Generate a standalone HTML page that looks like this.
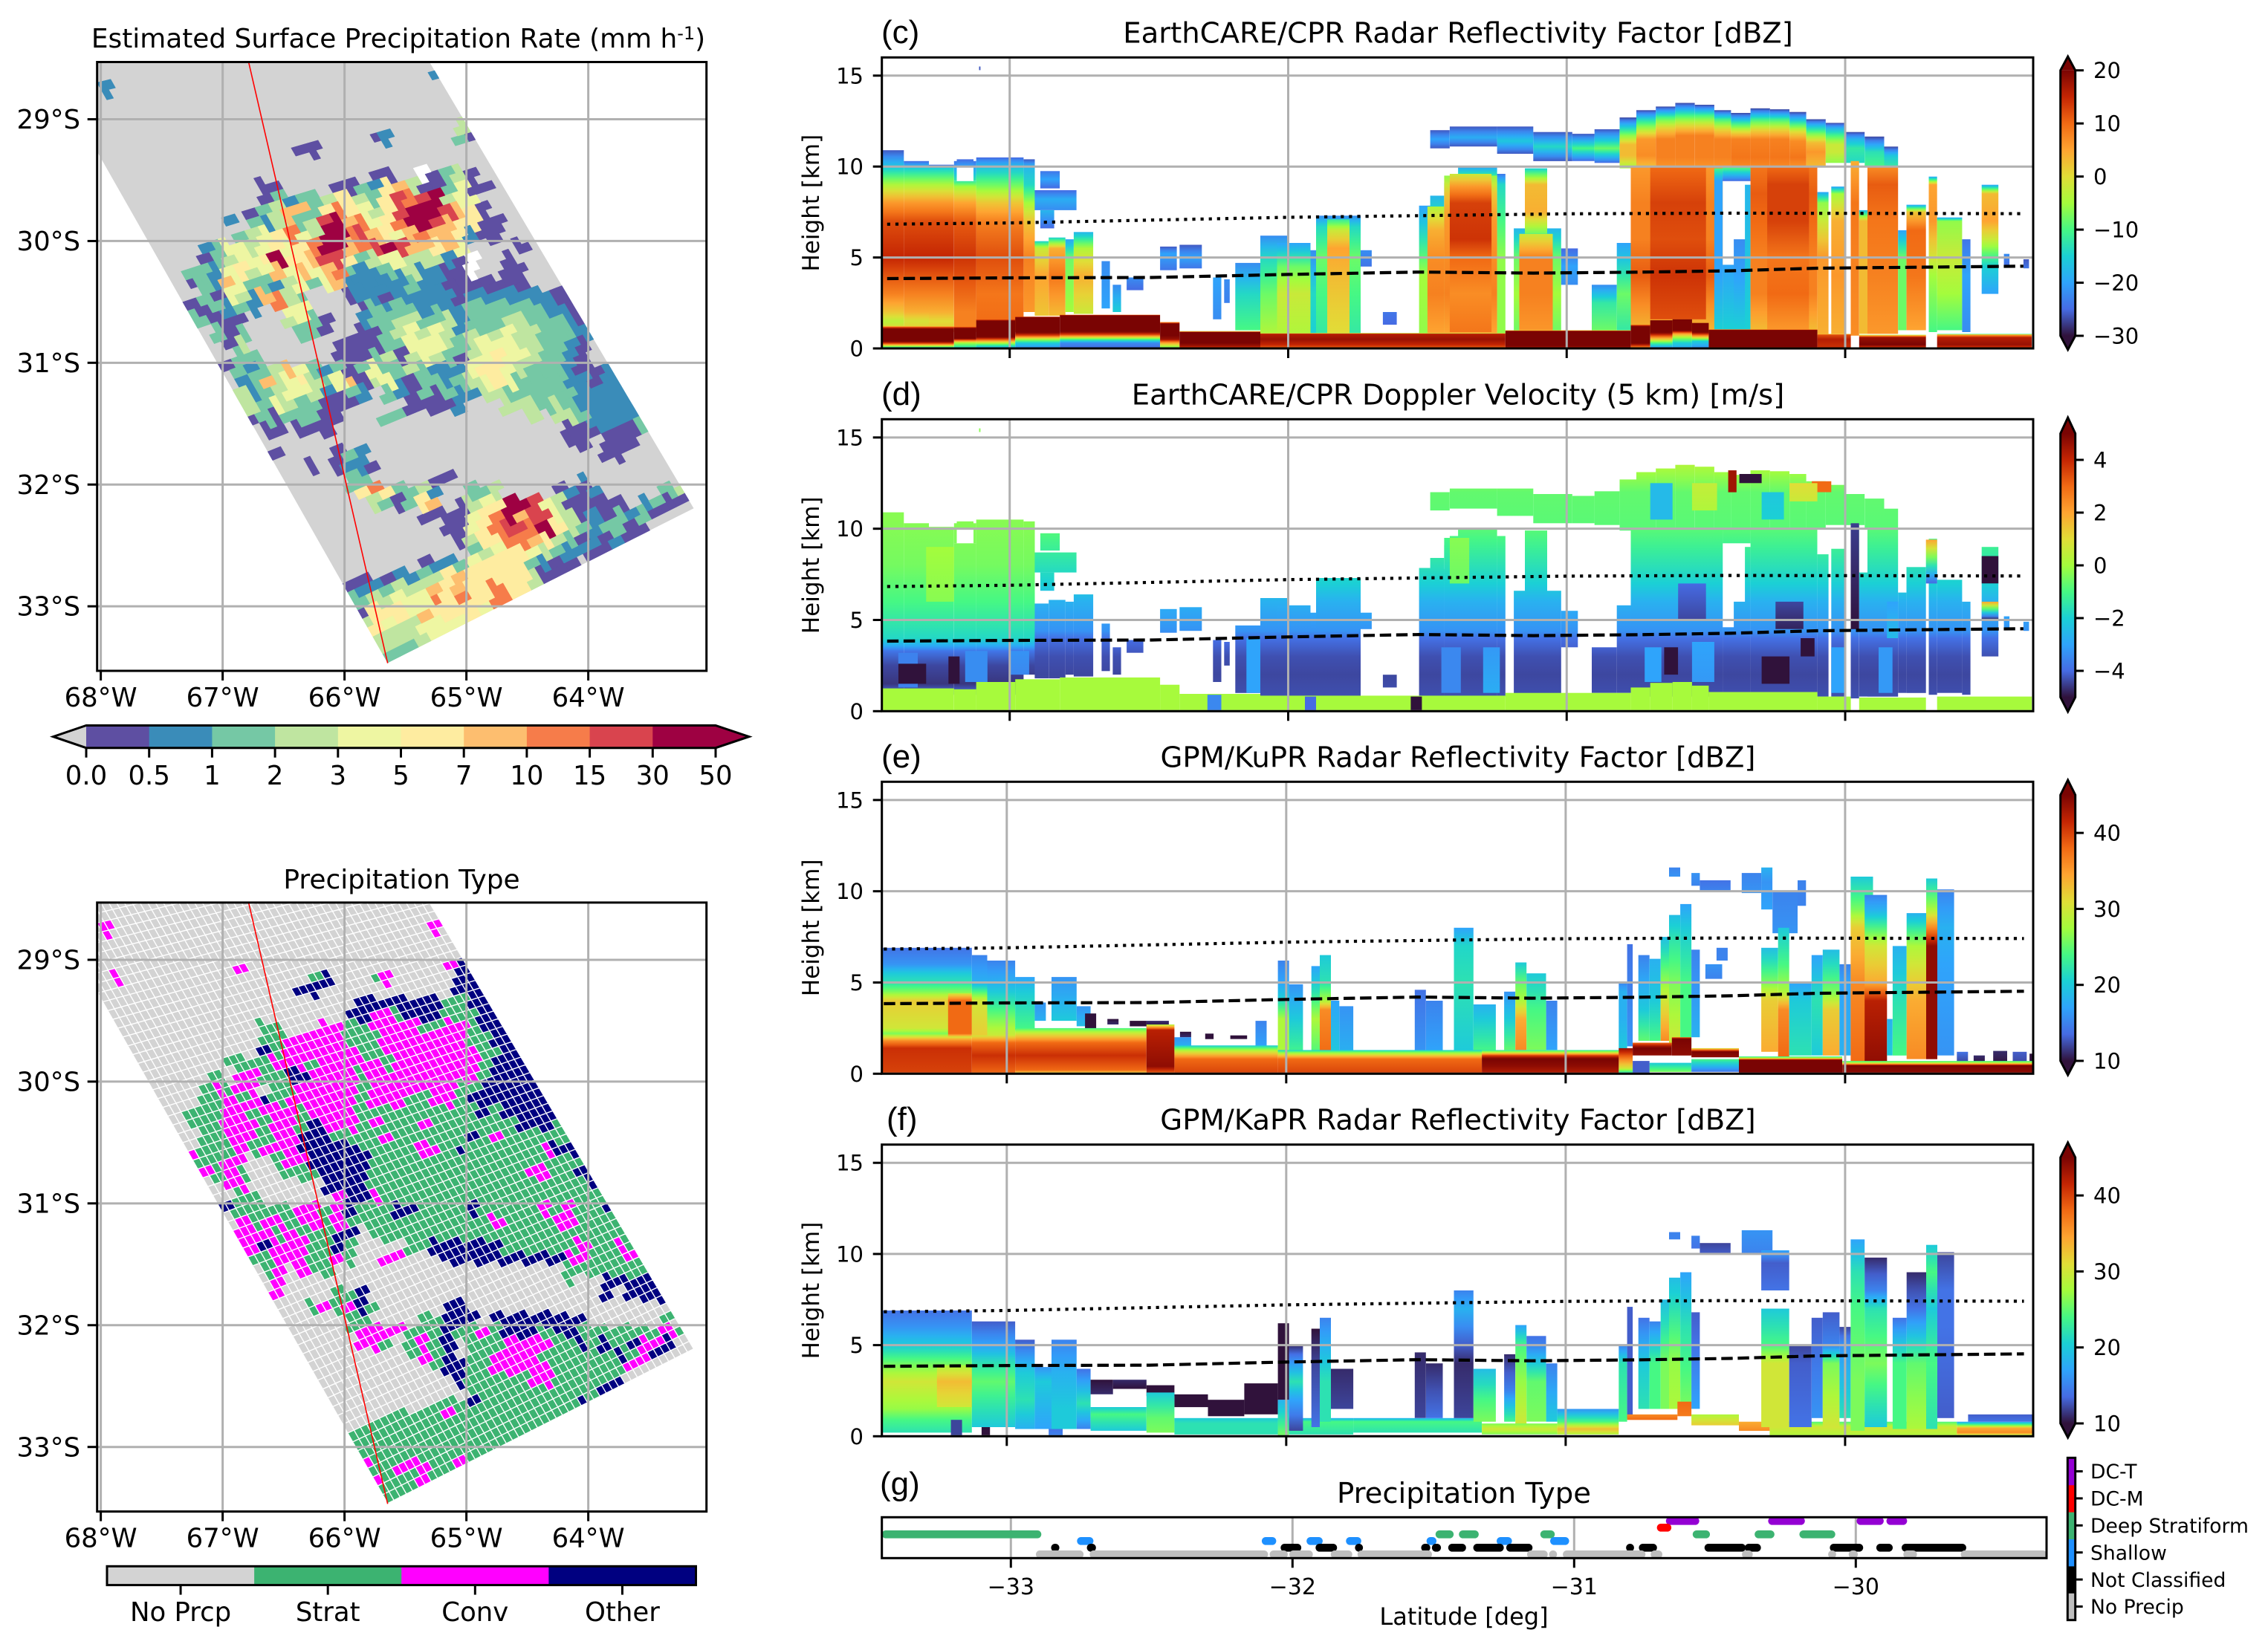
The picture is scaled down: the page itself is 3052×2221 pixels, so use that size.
<!DOCTYPE html>
<html lang="en">
<head>
<meta charset="utf-8">
<title>EarthCARE and GPM precipitation case study</title>
<style>
html,body{margin:0;padding:0;background:#fff;}
svg{display:block;}
text{font-family:"DejaVu Sans","Liberation Sans",sans-serif;fill:#000;}
.panel-label{font-family:"Liberation Sans",sans-serif;font-size:44px;}
.title{font-size:38.6px;text-anchor:middle;}
.map-title{font-size:35.9px;text-anchor:middle;}
</style>
</head>
<body>
<svg id="fig" xmlns="http://www.w3.org/2000/svg" width="3052" height="2221" viewBox="0 0 3052 2221">
<defs id="defs"></defs>
<rect x="0" y="0" width="3052" height="2221" fill="#fff"/>
<text class="map-title" x="536" y="64">Estimated Surface Precipitation Rate (mm h<tspan font-size="24" dy="-11">-1</tspan><tspan dy="11">)</tspan></text>
<text class="map-title" x="540.5" y="1196">Precipitation Type</text>
<text class="title" x="1962" y="57.3">EarthCARE/CPR Radar Reflectivity Factor [dBZ]</text>
<text class="title" x="1962" y="544.3">EarthCARE/CPR Doppler Velocity (5 km) [m/s]</text>
<text class="title" x="1962" y="1032.3">GPM/KuPR Radar Reflectivity Factor [dBZ]</text>
<text class="title" x="1962" y="1520.7">GPM/KaPR Radar Reflectivity Factor [dBZ]</text>
<text class="title" x="1970" y="2023">Precipitation Type</text>
<text class="panel-label" x="147" y="139">(a)</text>
<text class="panel-label" x="147" y="1285">(b)</text>
<text class="panel-label" x="1186" y="58">(c)</text>
<text class="panel-label" x="1186" y="545">(d)</text>
<text class="panel-label" x="1186" y="1033">(e)</text>
<text class="panel-label" x="1193" y="1521">(f)</text>
<text class="panel-label" x="1184" y="2012">(g)</text>
<text x="1970" y="2187" font-size="32" text-anchor="middle">Latitude [deg]</text>
</svg>
<script>
/* ---------- map data: lon/lat raster, 0.1 deg boxes ---------- */
const swathCorners = { bottom:[-65.646,-33.464], right:[-63.135,-32.195], topRight:[-66.119,-27.150], topLeft:[-68.928,-27.683] };
const trackLon = [-66.787,-65.646];
const trackLat = [-28.53,-33.467];
const lonTicks = [-68,-67,-66,-65,-64];
const lonTickLabels = ['68°W','67°W','66°W','65°W','64°W'];
const latTicks = [-29,-30,-31,-32,-33];
const latTickLabels = ['29°S','30°S','31°S','32°S','33°S'];
const rateBounds = ['0.0','0.5','1','2','3','5','7','10','15','30','50'];
const rateColors = ['#5e4fa2','#3a8cb9','#75c8a5','#bfe5a0','#eef6a2','#feeca0','#fdbe6f','#f67c4a','#d9444e','#9e0142'];
const typeNames = ['No Prcp','Strat','Conv','Other'];
const typeColors = ['#d3d3d3','#3cb371','#ff00ff','#000080'];
const precipSpans = [
[0,27,'1'],[1,0,'1'],[4,29,'30'],[5,29,'20'],[5,22,'01'],[6,16,'00'],[8,26,' '],[8,27,'0230'],[8,22,'00'],
[9,13,'00'],[9,19,'002156300'],[9,28,'2400'],[10,13,'021223553258789344'],[11,12,'02366257543589998650'],
[12,10,'1'],[12,12,'213623896745799865500'],[13,11,'2345743997865467665100'],[14,8,'1244345457996789866564'],[14,34,'0'],
[15,8,'0234459556885234433310'],[15,30,' '],[15,33,'0'],[16,7,'22145346464672112131100'],[16,30,' '],[16,33,'00'],
[17,7,'0216422134246111112110000000'],[18,8,'204316732'],[18,20,'0110111110111111100'],
[19,7,'002121'],[19,14,'744'],[19,21,'021221211222222110'],[20,7,'22000'],[20,15,'3420'],[20,21,'1223322312223322210'],
[21,9,'202'],[21,16,'220'],[21,21,'00234343132343322210'],[22,10,'03'],[22,19,'000022444323444332210'],
[23,11,'22'],[23,19,'000230343203454432210'],[24,10,'021236421202422321114554322210010'],
[25,11,'126345324603410221234542222110110'],[26,11,'31234431021'],[26,23,'2102021133222222111110'],
[27,11,'3324322000'],[27,25,'00001'],[27,33,'333232111110'],[28,12,'02022200'],[28,23,'22'],[28,35,'3'],[28,37,'332111120'],
[29,13,'00'],[29,16,'000'],[29,38,'00010021'],[30,38,'00'],[30,41,'000'],[31,14,'0'],[31,19,'021'],[31,41,'00'],
[32,17,'0'],[32,19,'0110'],[33,20,'22'],[33,27,'00'],[33,39,'1'],[34,20,'2575'],[34,24,'2231'],[34,30,'223'],[34,37,'0101'],[34,46,'23'],
[35,22,'32'],[35,24,'0'],[35,25,'256'],[35,29,'0'],[35,30,'3459984300000'],[35,44,'1200'],
[36,26,'00004579688430102120'],[37,28,'00457887953212200'],[38,29,'035577653201010'],[39,30,'2345543211000'],
[40,26,'0112455552100'],[41,21,'0'],[41,23,'011235655555300'],[42,20,'01123336565575531'],[43,20,'223344475755775'],
[44,21,'055546555544'],[45,21,'354334444'],[46,22,'333334'],[47,23,'322'],[48,23,'22']
];
const typeSpans = [
[1,0,'2'],[1,27,'2'],[4,11,'2'],[4,28,'233'],[5,1,'2'],[5,17,'13'],[5,22,'12'],[5,29,'333'],[6,16,'33'],[6,29,'333'],
[7,21,'3333333'],[7,28,'11333'],[8,20,'3'],[8,21,'322133311133'],[9,13,'11'],[9,18,'2211222211221333'],
[10,13,'1122222111222222211333'],[11,13,'31222222112222222211333'],[12,10,'11112221222221222222213333'],
[13,9,'1'],[13,11,'22113322221222222222133333'],[14,8,'12122.112222212222222113333333'],
[15,8,'112123122222212221122133333333'],[16,7,'1112212221222211111111113133333'],
[17,7,'1112221221322212111211111113331'],[18,8,'1122212233311112111111312111111'],
[19,8,'1112122233333111112213111111233'],[20,7,'21122'],[20,14,'1223333311111111111111111133'],
[21,8,'2121'],[21,15,'11133331111111111111221133'],[22,10,'22'],[22,18,'333311111111111111111133'],
[23,11,'11'],[23,19,'2332111111111111111111133'],[24,10,'3111112212311133111131111121211333'],
[25,11,'212212212111111111111211112211113'],[26,11,'2221211133'],[26,22,'1111111111111111111111'],
[27,11,'2232221131'],[27,25,'11333333'],[27,33,'111111'],[27,39,'211211'],[28,12,'112221121'],[28,23,'22'],[28,28,'3333333333'],[28,38,'22111211'],
[29,13,'12'],[29,16,'211'],[29,38,'11111111'],[30,14,'2'],[30,38,'1'],[30,41,'33333'],[31,14,'2'],[31,19,'113'],[31,41,'3'],[31,43,'333'],
[32,17,'121231'],[32,28,'33'],[33,20,'11'],[33,26,'11333'],[33,32,'33333333'],[33,46,'1'],
[34,20,'1222'],[34,24,'2111'],[34,28,'311'],[34,31,'21333133111111121'],[35,21,'221'],[35,25,'1213'],[35,30,'11122221131313223'],
[36,25,'1213'],[36,30,'1122221111113123'],[37,27,'133'],[37,30,'11222221111112'],[38,29,'3'],[38,30,'11111'],[38,35,'22'],[38,37,'11111'],[38,42,'3'],
[39,30,'11111111111'],[39,41,'33'],[40,27,'111'],[40,30,'3'],[40,31,'11111111'],[40,39,'33'],
[41,23,'11111'],[41,28,'2'],[41,29,'111111111'],[41,38,'33'],[42,21,'11111111111111111'],[43,20,'1111111111111111'],[44,21,'1111111111111'],
[45,21,'2112221122'],[46,22,'2111211'],[47,23,'1111'],[48,23,'11']
];

/* ---------- curtain data: [lat0, lat1, height, value, height, value, ...] ---------- */
const heightTicks = [0,5,10,15];
const latGridTicks = [-33,-32,-31,-30];
const dottedLineLat = [-33.44,-33,-32,-31,-30.41,-29.36];
const dottedLineHeight = [6.83,6.9,7.21,7.4,7.44,7.41];
const dashedLineLat = [-33.44,-33,-32.49,-32,-31.53,-31.12,-30.75,-30.41,-30.10,-29.36];
const dashedLineHeight = [3.84,3.88,3.9,4.07,4.2,4.14,4.19,4.27,4.41,4.52];
const cprTowers = [
[-33.11,-33.105,15.3,-26,15.5,-26],
[-33.46,-33.38,.9,1,1.5,-3,2,2,3,8,5,15,7,12,8,6,9,-4,9.9,-15,10.9,-26],
[-33.38,-33.29,.9,2,1.5,-1,2,4,3,8,5,15,7,12,8,6,9,-4,9.9,-15,10.3,-25],
[-33.29,-33.20,.9,3,1.5,0,2,4,3,8,5,15,7,12,8,6,9,-4,9.9,-15,10.1,-25],
[-33.20,-33.12,.9,8,2,8,5,14,7,11,8,5,8.9,-5,9.2,-12],[-33.20,-33.19,9.2,-12,10.3,-24],[-33.13,-33.12,9.2,-12,10.3,-24],[-33.19,-33.13,10,-20,10.4,-25],
[-33.12,-32.95,.9,10,3,9,5,12,7,8,8,2,9,-8,10,-17,10.5,-25],[-32.95,-32.91,2,6,5,8,7,2,8,-5,9,-14,10,-18,10.4,-26],
[-32.89,-32.82,8.8,-25,9.3,-20,9.75,-24],[-32.91,-32.76,7.6,-22,8.2,-19,8.7,-25],[-32.89,-32.84,6.6,-25,7.6,-18],
[-32.91,-32.86,1.8,2,4,5,5.5,-2,5.9,-15],[-32.86,-32.80,1.8,3,4,9,5.5,4,6.1,-15],[-32.80,-32.77,2,-5,5,-8,6,-20],[-32.77,-32.70,1.9,-2,4,4,5.5,-4,6.4,-18],
[-32.67,-32.64,2.2,-20,4.8,-22],[-32.63,-32.60,2,-15,3.5,-22],[-32.58,-32.52,3.2,-25,3.9,-22],
[-32.46,-32.40,4.3,-24,5.2,-20,5.6,-26],[-32.39,-32.31,4.4,-24,5,-20,5.7,-26],[-32.27,-32.24,1.6,-22,3.9,-20],[-32.23,-32.21,2.5,-23,3.8,-22],
[-32.19,-32.10,1,-10,3,-14,4.7,-22],[-32.10,-32.0,.8,-4,3,-8,5,-14,6.2,-22],[-32.04,-31.92,.8,-4,3,-2,4.5,-8,5.8,-20],
[-31.92,-31.88,.8,-15,3,-14,5.4,-22],[-31.90,-31.74,.8,-12,3,-10,5,-8,6.7,-14,7.3,-22],[-31.86,-31.78,.8,0,2,1,4,3,5.5,5,6.5,-2,7.1,-12],
[-31.74,-31.70,4.5,-24,5.4,-22],[-31.66,-31.61,1.3,-25,2,-24],
[-31.53,-31.49,.8,-6,4,-5,7.85,-20],[-31.49,-31.44,.8,-3,5,-2,8.4,-18],[-31.44,-31.39,.8,-3,5,-2,7,-3,9.1,-18],[-31.39,-31.25,.8,-3,5,-2,7,-4,9.4,-10,10,-20],[-31.25,-31.22,.8,-6,5,-6,9,-14,9.6,-24],
[-31.50,-31.44,.8,5,3,8,5,7,6.5,4,7.8,-4],[-31.44,-31.25,.8,5,3,8,5,7,7,6,8.5,2,9.5,-6],[-31.42,-31.27,.9,9,3,7,5,10,6,14,8,13,8.9,6,9.6,-2],
[-31.19,-31.02,.8,-8,3,-5,5,-8,6.6,-18],[-31.17,-31.05,.8,6,3,8,5,8,6.3,-2],[-31.15,-31.07,6.3,-8,7.5,4,9,3,9.9,-15],
[-31.02,-30.96,3.5,-22,4.5,-20,5.5,-25],[-30.91,-30.82,1,-8,2.5,-12,3.5,-22],
[-31.49,-31.42,11,-26,11.5,-20,12,-26],[-31.42,-31.25,11.1,-26,11.6,-19,12.2,-26],[-31.25,-31.12,10.7,-26,11.4,-16,12.2,-26],[-31.12,-30.98,10.3,-26,11.1,-14,11.9,-26],[-30.98,-30.90,10.3,-25,11,-10,11.8,-26],[-30.90,-30.81,10.2,-25,11,-8,12.05,-26],
[-30.81,-30.75,9.9,-5,10.6,3,11.2,3,11.7,-6,12.2,-16,12.7,-27],[-30.75,-30.68,9.9,2,10.6,7,11.5,6,12,-3,12.6,-14,13.1,-27],[-30.68,-30.61,9.9,6,10.5,8,11.5,8,12.1,1,12.7,-10,13.3,-27],
[-30.61,-30.54,9.9,6,10.5,8,11.7,8,12.2,1,12.8,-10,13.5,-27],[-30.54,-30.47,9.9,6,10.5,8,11.7,8,12.2,1,12.8,-10,13.4,-27],[-30.47,-30.41,9.9,6,10.5,8,11.5,8,12,1,12.6,-11,13.1,-27],
[-30.41,-30.34,9.9,7,10.5,9,11.5,8,11.9,0,12.4,-12,12.95,-27],[-30.34,-30.27,9.9,7,10.5,9,11.5,8,12,1,12.6,-11,13.2,-27],[-30.27,-30.20,9.9,7,10.5,9,11.5,8,12,1,12.6,-11,13.15,-27],
[-30.20,-30.14,9.9,6,10.5,9,11.4,7,11.9,0,12.4,-12,13,-27],[-30.14,-30.07,10,3,10.8,6,11.3,3,11.8,-7,12.2,-16,12.6,-27],[-30.07,-30.0,10.2,-6,10.8,-2,11.2,-2,11.7,-10,12.1,-18,12.4,-27],
[-30.0,-29.93,10.2,-14,11,-12,11.5,-18,11.9,-27],[-29.93,-29.86,10,-10,10.8,-13,11.65,-27],[-29.86,-29.81,10,-12,10.6,-16,11.1,-27],
[-30.82,-30.76,1,-12,3,-8,5.8,-20],[-30.77,-30.71,6.9,0,7.1,-8,10,-16],[-30.77,-30.44,.8,3,4,11,6,8,8,8,10,6],[-30.70,-30.50,1.6,12,4,14,6,12,8,13,10,10],
[-30.47,-30.44,1,-15,4,-20,9.2,-20,9.9,-10],[-30.44,-30.34,9.2,-25,10,-8],[-30.44,-30.38,1,-15,4.6,-20],[-30.40,-30.34,1,-15,3.9,-20,6,-22],
[-30.36,-30.34,1,-15,9,-18],[-30.34,-30.10,1,3,3,8,5,8,7,10,8.5,11,10,9],[-30.28,-30.13,1,6,3,10,5,9,7,13,9,13,10,10],
[-30.10,-30.06,.8,4,5,6,8,-6,8.6,-20],[-30.05,-30.0,.8,4,4,6,7,4,8.5,-5,8.9,-20],[-29.98,-29.95,.7,7,5,8,8,9,10.3,4],[-29.95,-29.92,.8,3,7,3,7.6,-18],
[-29.92,-29.81,.8,6,4,8,7,9,9,11,10,7],[-29.81,-29.78,1,-8,5,-8,6.5,-20],[-29.78,-29.71,1,5,4,9,6.5,10,7.5,2,7.9,-20],
[-29.70,-29.67,.9,-10,4,-5,7,6,9,5,9.45,-20],[-29.67,-29.58,1,-10,3,-5,5,-2,7,-6,7.2,-20],[-29.58,-29.55,.9,-22,4,-20,6,-24],
[-29.51,-29.45,3,-20,4.5,-15,6,-2,7,5,8.5,3,9,-20],[-29.43,-29.41,4.5,-25,5.2,-22],[-29.36,-29.34,4.4,-24,4.9,-26]
];
const cprBand = [
[-33.46,-33.20,0,-18,.12,-5,.25,10,.4,22,1.05,22,1.15,14,1.25,-2],[-33.20,-33.12,0,-15,.3,-5,.45,10,.55,22,1.1,22,1.2,8],
[-33.12,-32.98,0,-20,.2,-10,.35,0,.5,12,.65,22,1.5,22,1.6,10],[-32.98,-32.82,0,-22,.3,-15,.5,-5,.7,12,.9,22,1.7,22,1.75,10],
[-32.82,-32.46,0,-25,.3,-22,.5,-10,.75,12,.95,22,1.8,22,1.85,10],[-32.46,-32.39,0,-10,.3,5,.5,18,.7,22,1.35,22,1.45,5],
[-32.39,-32.10,0,12,.15,18,.3,22,.9,20,.95,-5],[-32.10,-31.22,0,10,.2,15,.5,18,.8,16,.85,-8],[-31.22,-30.77,0,14,.15,22,.95,22,1,-4],
[-30.77,-30.70,0,5,.3,22,1.2,22,1.3,10],[-30.70,-30.62,0,-22,.3,-10,.7,12,.9,22,1.55,22],[-30.62,-30.55,0,-20,.3,-15,.6,-5,.8,5,1,22,1.6,22],
[-30.55,-30.49,0,-22,.4,-15,.6,0,.9,22,1.4,22],[-30.49,-30.10,0,5,.1,22,1,22,1.05,5],[-30.10,-29.98,0,14,.5,16,.75,12,.8,0],
[-29.95,-29.71,0,12,.2,20,.6,18,.7,6,.75,-5],[-29.67,-29.33,0,12,.2,18,.6,16,.75,5,.8,-15]
];
const dopplerLeftHeights = [1,1.5,2.5,3.3,3.6,4,6,8,10.5];
const dopplerLeftValues = [-4,-4.6,-4.4,-3.8,-2.8,-1.8,-1,-.5,-.3];
const dopplerStormHeights = [.7,2,3,4,4.4,6,7,8,9,10,12,13.5];
const dopplerStormValues = [-4.3,-4.4,-4.3,-3.9,-3.3,-2.7,-2,-1.6,-1.2,-.8,-.7,.2];
const dopplerSurfaceValue = [.05];
const dopplerPatches = [
[-30.42,-30.39,12,4.5,13.2,4.5],[-30.38,-30.30,12.5,-5,13,-5],[-30.12,-30.05,12,3,12.6,3],[-29.98,-29.95,4.5,-5,10.3,-4.5],[-29.71,-29.67,7,-4,9.4,2],
[-29.51,-29.45,7,-5,8.5,-5],[-29.51,-29.45,5,-5,6,2],[-30.70,-30.62,10.5,-2.5,12.5,-2.5],[-30.30,-30.22,10.5,-2,12,-2.2],[-30.55,-30.46,11,.2,12.5,.5],
[-30.20,-30.10,11.5,.6,12.5,1],[-33.30,-33.20,6,-.3,9,0],[-32.29,-32.24,0,-3.5,.9,-3.5],[-31.94,-31.90,0,-4,.8,-4],[-31.56,-31.52,0,-5,.8,-5],
[-31.42,-31.35,7,-.6,9.5,-.3],[-30.60,-30.50,5,-4.4,7,-4],[-30.25,-30.15,4.5,-4.8,6,-4.4],[-29.85,-29.81,4,-2.5,6,-3],
[-33.40,-33.33,1.3,-3.6,3.2,-3.6],[-33.16,-33.08,1.6,-3.4,3.3,-3.4],[-33.0,-32.93,2,-3.5,3.3,-3.3],[-31.45,-31.38,1,-3.5,3.5,-3.5],[-31.30,-31.24,1,-2.8,3.5,-3.2],
[-30.72,-30.66,1.6,-3,3.5,-3],[-30.55,-30.47,1.6,-3.2,3.8,-3],[-30.05,-30,1,-3,3.5,-3],[-29.88,-29.83,1,-3.2,3.5,-3.2],[-32.15,-32.1,1,-3,4,-3],
[-33.4,-33.3,1.5,-5,2.6,-5],[-33.22,-33.18,1.5,-5,3,-5],[-30.65,-30.6,2,-5,3.5,-5],[-30.3,-30.2,1.5,-5,3,-5],[-30.16,-30.11,3,-5,4,-5]
];
const kuEntries = [
[-33.45,-33.125,0,40,1.4,41,1.8,36,2.2,26,2.5,30,4,32,4.5,26,5,22,5.5,20,6,16,6.9,14],[-33.21,-33.125,2,30,2.2,38,4,38,4.4,30],
[-33.125,-33.07,2,32,4,30,4.5,24,5,18,6.5,15],[-33.07,-32.97,2,30,3,26,4.5,20,5,18,6.2,15],[-32.97,-32.90,2.4,24,3.5,22,4.5,20,5.3,17],
[-33.125,-32.97,0,38,1,41,1.7,38,2.1,30],
[-32.90,-32.86,2.9,18,3.9,16],[-32.84,-32.75,2.9,20,4,18,5.3,16],[-32.75,-32.70,2.6,19,3.7,16],
[-32.72,-32.68,2.4,10,3.3,10],[-32.64,-32.60,2.7,11,3,10],[-32.56,-32.50,2.6,10,2.9,10],[-32.50,-32.42,2.5,10,2.9,11],
[-32.38,-32.34,2,11,2.3,10],[-32.29,-32.26,1.9,10,2.2,10],[-32.20,-32.14,1.9,10,2.1,10],[-32.40,-32.34,1.5,18,2,16],[-32.11,-32.07,1.4,17,2.9,15],[-31.80,-31.76,1.2,11,1.6,10],
[-32.03,-31.99,1,28,3,28,4.2,20,5,17,6.2,15],[-31.99,-31.94,1,24,3,20,4.9,16],[-31.91,-31.88,1,24,3,28,4,24,5,20,5.9,17],[-31.88,-31.84,1,38,3.5,36,4,28,5,22,6.5,20],
[-31.84,-31.81,1,20,4,17],[-31.81,-31.76,1,18,3.7,16],[-31.54,-31.50,1.2,16,4.6,14],[-31.50,-31.44,1.2,17,4,15],[-31.40,-31.33,1.2,20,5,22,7,21,8,17],[-31.33,-31.25,1.2,24,3,20,3.8,18],
[-31.22,-31.18,1.3,25,3,20,4.5,16],[-31.18,-31.14,1.3,36,3,34,4,28,5,25,6.1,20],[-31.14,-31.07,1.3,26,3.5,24,5.5,20],[-31.07,-31.03,1.3,17,4,15],
[-30.81,-30.78,1.3,20,3,18,4.5,18,5,15],[-30.78,-30.76,1.5,16,7.1,14],[-30.74,-30.70,1.8,25,3.5,20,6.5,15],[-30.70,-30.66,1.8,24,4,20,6.3,18],[-30.66,-30.63,1.8,36,4,30,6,24,7.5,19],
[-30.63,-30.59,1.5,30,5,26,7.5,22,8.7,19],[-30.59,-30.55,1.5,24,5,24,8,20,9.3,17],[-30.55,-30.52,2,18,5,16,6.8,15],[-30.50,-30.44,5.2,15,6,16],[-30.46,-30.42,6.2,15,6.9,15],
[-30.63,-30.59,10.8,16,11.3,15],[-30.55,-30.52,10.3,15,11,16],[-30.52,-30.41,10,15,10.6,14],[-30.37,-30.30,9.9,16,11,15],[-30.30,-30.26,9,17,10.5,16,11.3,18],[-30.26,-30.17,7.7,16,10,15],[-30.17,-30.14,9.2,15,10.6,15],
[-30.30,-30.24,1.2,34,4,32,5,26,6.9,19],[-30.24,-30.20,.9,38,3.5,36,4.5,28,6,24,8,20],[-30.20,-30.12,1,22,4,20,5,17],[-30.12,-30.08,1,20,4,22,6.5,17],[-30.08,-30.02,1,34,3.5,32,4.5,26,6.8,19],[-30.02,-29.98,1,18,5,17,6,15],
[-29.98,-29.90,.5,38,5,36,8,32,9,26,10.8,20],[-29.93,-29.85,.5,44,4,42,5,34,7,30,9,18,9.8,15],[-29.85,-29.83,1,20,3,18],[-29.83,-29.78,1,24,4,22,7,18],[-29.78,-29.71,.8,36,4,34,7,28,8.8,18],
[-29.71,-29.67,.8,44,7,44,8,36,9,28,10.7,20],[-29.67,-29.61,1,16,6,17,8,18,10.1,15],[-29.60,-29.56,.6,12,1.2,14],[-29.54,-29.50,.5,10,1,11],[-29.47,-29.42,.5,10,1.25,11],[-29.40,-29.35,.5,12,1.2,13],[-29.34,-29.32,.6,10,1.1,10],
[-32.97,-32.5,0,30,.2,38,1,41,1.7,38,2.2,30,2.5,24],[-32.5,-32.40,0,38,.4,44,2.4,42,2.7,28],[-32.40,-32.03,0,40,.8,38,1.2,30,1.4,25,1.55,20],[-32.03,-31.30,0,40,.8,38,1,32,1.2,25,1.3,20],
[-31.30,-30.81,0,42,.8,46,1,40,1.15,30,1.3,22],[-30.81,-30.76,0,20,.3,30,1.4,44],[-30.76,-30.62,1,44,1.4,46,1.7,38],[-30.62,-30.55,1,44,1.9,46,2,38],[-30.70,-30.55,.1,26,.6,20],[-30.76,-30.70,0,13,.7,13],
[-30.55,-30.38,.9,44,1.2,46,1.4,30],[-30.55,-30.38,.1,14,.8,24],[-30.38,-30.01,0,46,.75,46,.85,30,.95,22],[-30.01,-29.32,0,44,.45,45,.6,28,.7,24]
];
const kaEntries = [
[-33.45,-33.125,.2,22,.9,24,1.5,27,2,28,3,30,3.9,26,5,20,6,16,6.9,14],[-33.25,-33.10,1.6,30,3,33,3.9,28],[-33.125,-32.97,.5,20,1.5,22,3,25,4,22,5,17,6.3,13],
[-32.97,-32.90,.4,18,2,22,3.5,20,5.3,13],[-32.90,-32.84,.4,17,3,20,3.8,16],[-32.84,-32.75,.4,20,1.5,20,3.5,18,5.3,15],[-32.75,-32.70,.4,15,1.8,22,3.7,14],
[-32.70,-32.62,2.3,11,3.1,10],[-32.62,-32.50,2.6,10,3.1,11],[-32.50,-32.40,2.2,10,2.8,10],[-32.40,-32.28,1.6,10,2.3,10],[-32.28,-32.15,1.1,10,2,10],[-32.15,-32.03,1.2,10,2.9,10],
[-32.70,-32.50,.3,20,1.2,24,1.6,20],[-32.5,-32.40,.2,26,1,25,2.4,20],[-32.40,-32.03,.1,22,.7,22,1,20],[-33.2,-33.16,0,12,.9,12],[-33.09,-33.06,0,10,.5,10],[-32.85,-32.8,0,15,.4,14],
[-32.03,-31.76,.1,22,.8,24,1,18],
[-32.03,-31.99,2,10,6.2,10],[-32.03,-31.99,0,26,2,18],[-31.99,-31.94,.3,12,2,17,3,22,5,11],[-31.91,-31.88,.5,14,4,12,5.9,10],[-31.88,-31.84,.8,22,3,22,5,18,6.5,15],[-31.84,-31.76,1.5,12,3.7,11],
[-31.76,-31.3,.2,22,.8,24,1,18],[-31.54,-31.50,1,12,4.6,11],[-31.50,-31.44,1,14,4,11],[-31.40,-31.33,1,12,4,11,5,13,7,18,8,15],[-31.33,-31.25,.8,26,2,24,3.7,19],[-31.22,-31.18,.8,24,2.5,15,4.5,11],
[-31.18,-31.14,.5,30,3,27,5,24,6.1,17],[-31.14,-31.07,.8,26,3,25,5,15,5.5,14],[-31.07,-31.03,.8,20,4,15],[-31.30,-31.03,.1,26,.4,30,.7,26],[-31.03,-30.81,.1,28,.4,33,.8,24,1.5,16],
[-30.81,-30.78,.8,24,4,22,5,15],[-30.78,-30.76,1,13,7.1,13],[-30.74,-30.70,1.5,22,4,20,6.5,14],[-30.70,-30.66,1.5,24,4,24,6.3,15],[-30.66,-30.63,1.5,26,4,26,7.5,19],[-30.63,-30.59,1.5,28,4,27,7,22,8.7,19],[-30.59,-30.55,1.5,26,6,22,9,17],[-30.55,-30.52,1.5,17,5,14,6.8,13],
[-30.78,-30.60,.9,38,1.2,36],[-30.60,-30.55,1.1,37,1.9,38],[-30.55,-30.38,.6,32,1.2,28],[-30.38,-30.27,.3,36,.8,34],[-30.27,-29.6,0,28,.5,30,.8,24],
[-30.63,-30.59,10.8,15,11.2,15],[-30.55,-30.52,10.3,14,11,15],[-30.52,-30.41,10,13,10.6,12],[-30.37,-30.26,10,15,11.3,16],[-30.30,-30.20,8,14,9.5,13,10.2,17],
[-30.30,-30.20,.5,30,4,30,5,24,7,20],[-30.20,-30.12,.5,14,4,13,5,12],[-30.12,-30.08,1,16,6.5,13],[-30.08,-30.02,.5,30,4,26,5,15,6.8,13],[-30.02,-29.98,1,22,5,16,6,12],
[-29.98,-29.93,.3,26,3,26,7,24,9,22,10.8,17],[-29.93,-29.85,.5,20,4,26,7,22,8,15,9.8,11],[-29.83,-29.78,.4,24,4,24,6.5,14],[-29.78,-29.71,.4,28,4,25,7,14,9,11],[-29.71,-29.67,.4,22,4,24,7,20,9,24,10.5,20],[-29.67,-29.61,1,13,6,14,8,14,10.1,12],
[-29.60,-29.32,0,26,.2,36,.45,34,.6,26,.8,17],[-29.56,-29.32,.8,14,1.2,13]
];
/* ---------- panel g ---------- */
const classNames = ['No Precip','Not Classified','Shallow','Deep Stratiform','DC-M','DC-T'];
const classColors = ['#bebebe','#000000','#1e90ff','#3cb371','#ff0000','#9400d3'];
const classTicks = [-33,-32,-31,-30];
const classTickLabels = ['−33','−32','−31','−30'];
const classSegments = [
[5,-30.674,-30.556],[5,-30.311,-30.181],[5,-29.997,-29.901],[5,-29.891,-29.818],[4,-30.706,-30.655],
[3,-33.458,-32.892],[3,-31.492,-31.428],[3,-31.409,-31.339],[3,-31.120,-31.069],[3,-30.579,-30.518],[3,-30.359,-30.289],[3,-30.200,-30.073],
[2,-32.765,-32.707],[2,-32.109,-32.058],[2,-31.950,-31.893],[2,-31.810,-31.756],[2,-31.524,-31.489],[2,-31.275,-31.221],[2,-31.085,-31.018],
[1,-32.857,-32.828],[1,-32.730,-32.698],[1,-32.042,-31.969],[1,-31.918,-31.842],[1,-31.778,-31.750],[1,-31.543,-31.511],[1,-31.505,-31.473],[1,-31.447,-31.384],[1,-31.358,-31.250],[1,-31.241,-31.148],[1,-30.814,-30.789],[1,-30.770,-30.706],[1,-30.537,-30.391],[1,-30.394,-30.337],[1,-30.092,-29.974],[1,-29.927,-29.869],[1,-29.837,-29.608],
[0,-32.911,-32.742],[0,-32.720,-32.087],[0,-32.081,-32.017],[0,-32.011,-31.928],[0,-31.864,-31.788],[0,-31.769,-31.505],[0,-31.167,-31.094],[0,-31.088,-31.062],[0,-31.040,-30.747],[0,-30.728,-30.687],[0,-30.404,-30.366],[0,-30.098,-30.070],[0,-30.025,-29.993],[0,-29.831,-29.783],[0,-29.627,-29.322]
];
/* ---------- colour map anchor colours ---------- */
const turboColors = ['#30123b','#466be3','#2fa4fb','#1bd0d5','#46f884','#a4fc3c','#e1dd37','#fea431','#f16a14','#c42503','#7a0403'];

const NS='http://www.w3.org/2000/svg';
const fig=document.getElementById('fig');
const defs=document.getElementById('defs');
let gradId=0;
function add(parent,tag,attrs){
  const e=document.createElementNS(NS,tag);
  for(const k in attrs)e.setAttribute(k,attrs[k]);
  parent.appendChild(e);
  return e;
}
function hexRgb(h){return [parseInt(h.slice(1,3),16),parseInt(h.slice(3,5),16),parseInt(h.slice(5,7),16)];}
function turbo(t){
  t=Math.max(0,Math.min(1,t));
  const p=t*(turboColors.length-1),i=Math.min(turboColors.length-2,Math.floor(p)),f=p-i;
  const a=hexRgb(turboColors[i]),b=hexRgb(turboColors[i+1]);
  return 'rgb('+a.map((v,k)=>Math.round(v+(b[k]-v)*f)).join(',')+')';
}
function lineAttrs(x1,y1,x2,y2,stroke,w){return {x1,y1,x2,y2,stroke,'stroke-width':w};}

/* ---------- map panels ---------- */
const mapAxes=[
 {id:'a',left:130.7,right:950.7,top:83.5,bottom:903,spans:precipSpans},
 {id:'b',left:130.7,right:950.7,top:1214.9,bottom:2034.6,spans:typeSpans}
];
const lonMin=-68.03,lonMax=-63.03,latMaxMap=-28.53,latMinMap=-33.53;
const SCANS=110,BEAMS=49;
function swathPoint(u,v){
  const c=swathCorners;
  const l0=c.bottom[0]+(c.topLeft[0]-c.bottom[0])*u, a0=c.bottom[1]+(c.topLeft[1]-c.bottom[1])*u;
  const l1=c.right[0]+(c.topRight[0]-c.right[0])*u, a1=c.right[1]+(c.topRight[1]-c.right[1])*u;
  return [l0+(l1-l0)*v,a0+(a1-a0)*v];
}
mapAxes.forEach(ax=>{
  const xS=lon=>ax.left+(lon-lonMin)/(lonMax-lonMin)*(ax.right-ax.left);
  const yS=lat=>ax.top+(latMaxMap-lat)/(latMaxMap-latMinMap)*(ax.bottom-ax.top);
  const cp=add(defs,'clipPath',{id:'clip-'+ax.id});
  add(cp,'rect',{x:ax.left,y:ax.top,width:ax.right-ax.left,height:ax.bottom-ax.top});
  const g=add(fig,'g',{'clip-path':'url(#clip-'+ax.id+')'});
  
  
  const P=(p)=>xS(p[0]).toFixed(1)+' '+yS(p[1]).toFixed(1);
  const bg=add(g,'polygon',{points:[swathCorners.bottom,swathCorners.right,swathCorners.topRight,swathCorners.topLeft].map(p=>xS(p[0]).toFixed(1)+','+yS(p[1]).toFixed(1)).join(' '),fill:'#d3d3d3'});
  
  
  const lookup={};
  ax.spans.forEach(s=>{for(let i=0;i<s[2].length;i++){lookup[s[0]+'_'+(s[1]+i)]=s[2][i];}});
  const paths={};
  for(let i=0;i<SCANS;i++)for(let j=0;j<BEAMS;j++){
    const u0=i/80,u1=(i+1)/80,v0=j/BEAMS,v1=(j+1)/BEAMS;
    const c=swathPoint((u0+u1)/2,(v0+v1)/2);
    const r=Math.floor((-28.6-c[1])/0.1),k=Math.floor((c[0]+68)/0.1);
    const ch=lookup[r+'_'+k];
    if(ch===undefined||ch==='.')continue;
    paths[ch]=(paths[ch]||'')+'M'+P(swathPoint(u0,v0))+'L'+P(swathPoint(u1,v0))+'L'+P(swathPoint(u1,v1))+'L'+P(swathPoint(u0,v1))+'Z';
  }
  Object.keys(paths).forEach(ch=>{
    const col=ch===' '?'#ffffff':(ax.id==='a'?rateColors[+ch]:typeColors[+ch]);
    const m=add(g,'path',{d:paths[ch],fill:col,stroke:col,'stroke-width':0.5});
    
    
  });
  if(ax.id==='b'){
    let d='';
    for(let i=0;i<=SCANS;i++)d+='M'+P(swathPoint(i/80,0))+'L'+P(swathPoint(i/80,1));
    for(let j=0;j<=BEAMS;j++)d+='M'+P(swathPoint(0,j/BEAMS))+'L'+P(swathPoint(SCANS/80,j/BEAMS));
    const w=add(g,'path',{d:d,fill:'none',stroke:'#fff','stroke-width':1.4});
    
    
  }
  lonTicks.forEach((lon,i)=>{
    const gl=add(g,'line',lineAttrs(xS(lon),ax.top,xS(lon),ax.bottom,'#b0b0b0',3));
    
    
    const tk=add(fig,'line',lineAttrs(xS(lon),ax.bottom,xS(lon),ax.bottom+13,'#000',3));
    
    
    const t=add(fig,'text',{x:xS(lon),y:ax.bottom+48,'font-size':35.5,'text-anchor':'middle'});
    t.textContent=lonTickLabels[i];
    
    
  });
  latTicks.forEach((lat,i)=>{
    const gl=add(g,'line',lineAttrs(ax.left,yS(lat),ax.right,yS(lat),'#b0b0b0',3));
    
    
    const tk=add(fig,'line',lineAttrs(ax.left-13,yS(lat),ax.left,yS(lat),'#000',3));
    
    
    const t=add(fig,'text',{x:108,y:yS(lat)+12.6,'font-size':35.5,'text-anchor':'end'});
    t.textContent=latTickLabels[i];
    
    
  });
  const tr=add(g,'line',lineAttrs(xS(trackLon[0]),yS(trackLat[0]),xS(trackLon[1]),yS(trackLat[1]),'#ff0000',1.6));
  
  
  const sp=add(fig,'rect',{x:ax.left,y:ax.top,width:ax.right-ax.left,height:ax.bottom-ax.top,fill:'none',stroke:'#000','stroke-width':3});
  
  
});

/* rate colour bar */
(function(){
  const l=116,r=963,t=976.5,b=1006.7,n=rateColors.length,w=(r-l)/n;
  const lt=add(fig,'polygon',{points:l+','+t+' 71.6,'+((t+b)/2)+' '+l+','+b,fill:'#d3d3d3'});
  
  
  const rt=add(fig,'polygon',{points:r+','+t+' 1008,'+((t+b)/2)+' '+r+','+b,fill:'#9e0142'});
  
  
  rateColors.forEach((c,i)=>{
    const s=add(fig,'rect',{x:l+i*w,y:t,width:w+.5,height:b-t,fill:c});
    
    
  });
  const o=add(fig,'polygon',{points:l+','+t+' '+r+','+t+' 1008,'+((t+b)/2)+' '+r+','+b+' '+l+','+b+' 71.6,'+((t+b)/2),fill:'none',stroke:'#000','stroke-width':3});
  
  
  rateBounds.forEach((lab,i)=>{
    const tk=add(fig,'line',lineAttrs(l+i*w,b,l+i*w,b+13,'#000',3));
    
    
    const x=add(fig,'text',{x:l+i*w,y:1056,'font-size':35.5,'text-anchor':'middle'});
    x.textContent=lab;
    
    
  });
})();
/* type colour bar */
(function(){
  const l=144,r=936.5,t=2108.3,b=2133.6,w=(r-l)/4;
  typeNames.forEach((lab,i)=>{
    const s=add(fig,'rect',{x:l+i*w,y:t,width:w+.5,height:b-t,fill:typeColors[i]});
    
    
    const tk=add(fig,'line',lineAttrs(l+(i+.5)*w,b,l+(i+.5)*w,b+13,'#000',3));
    
    
    const x=add(fig,'text',{x:l+(i+.5)*w,y:2182,'font-size':35.5,'text-anchor':'middle'});
    x.textContent=lab;
    
    
  });
  const o=add(fig,'rect',{x:l,y:t,width:r-l,height:b-t,fill:'none',stroke:'#000','stroke-width':3});
  
  
})();

/* ---------- curtain panels ---------- */
function lookupProfile(hs,vs,h){
  if(h<=hs[0])return vs[0];
  for(let i=1;i<hs.length;i++){if(h<=hs[i]){return vs[i-1]+(vs[i]-vs[i-1])*(h-hs[i-1])/(hs[i]-hs[i-1]);}}
  return vs[vs.length-1];
}
function dopplerEntry(en){
  const mid=(en[0]+en[1])/2,left=mid<-32.9;
  const hs=left?dopplerLeftHeights:dopplerStormHeights,vs=left?dopplerLeftValues:dopplerStormValues;
  const h0=en[2],h1=en[en.length-2];
  const out=[en[0],en[1],h0,lookupProfile(hs,vs,h0)];
  hs.forEach(h=>{if(h>h0&&h<h1){out.push(h,lookupProfile(hs,vs,h));}});
  out.push(h1,lookupProfile(hs,vs,h1));
  return out;
}
function bandDoppler(en){return [en[0],en[1],en[2],dopplerSurfaceValue[0],en[en.length-2],dopplerSurfaceValue[0]];}
const curtainPanels=[
 {id:'c',top:77.3,bottom:469,lat0:-33.459,lat1:-29.325,vmin:-30,vmax:20,yMin:452,yMax:94.7,tipTop:76,tipBottom:470.7,cticks:[-30,-20,-10,0,10,20],clabels:['−30','−20','−10','0','10','20'],layers:[cprTowers,cprBand]},
 {id:'d',top:564.3,bottom:957.3,lat0:-33.459,lat1:-29.325,vmin:-5,vmax:5,yMin:938.5,yMax:583.5,tipTop:562,tipBottom:958,cticks:[-4,-2,0,2,4],clabels:['−4','−2','0','2','4'],layers:[cprTowers.map(dopplerEntry),cprBand.map(bandDoppler),dopplerPatches]},
 {id:'e',top:1052.3,bottom:1445.3,lat0:-33.447,lat1:-29.327,vmin:10,vmax:45,yMin:1428,yMax:1070,tipTop:1050,tipBottom:1447,cticks:[10,20,30,40],clabels:['10','20','30','40'],layers:[kuEntries]},
 {id:'f',top:1540.7,bottom:1933.3,lat0:-33.447,lat1:-29.327,vmin:10,vmax:45,yMin:1916,yMax:1558,tipTop:1538,tipBottom:1935,cticks:[10,20,30,40],clabels:['10','20','30','40'],layers:[kaEntries]}
];
const cLeft=1186.7,cRight=2736,cbL=2772.7,cbR=2792.7;
curtainPanels.forEach(p=>{
  const xS=lat=>cLeft+(lat-p.lat0)/(p.lat1-p.lat0)*(cRight-cLeft);
  const yS=h=>p.bottom-h/16*(p.bottom-p.top);
  const cmap=v=>turbo((v-p.vmin)/(p.vmax-p.vmin));
  const cp=add(defs,'clipPath',{id:'clip-'+p.id});
  add(cp,'rect',{x:cLeft,y:p.top,width:cRight-cLeft,height:p.bottom-p.top});
  const g=add(fig,'g',{'clip-path':'url(#clip-'+p.id+')'});
  
  
  p.layers.forEach(list=>list.forEach(en=>{
    const h0=en[2],h1=en[en.length-2];
    const id='cg'+(gradId++);
    const lg=add(defs,'linearGradient',{id:id,gradientUnits:'userSpaceOnUse',x1:0,x2:0,y1:yS(h0),y2:yS(h1)});
    for(let i=2;i<en.length-2;i+=2){
      const ha=en[i],va=en[i+1],hb=en[i+2],vb=en[i+3];
      const steps=Math.max(1,Math.min(5,Math.ceil(Math.abs(vb-va)/(p.vmax-p.vmin)*12)));
      for(let k=0;k<=steps;k++){
        const f=k/steps;
        add(lg,'stop',{offset:((ha+(hb-ha)*f-h0)/(h1-h0)).toFixed(4),'stop-color':cmap(va+(vb-va)*f)});
      }
    }
    const r=add(g,'rect',{x:xS(en[0]).toFixed(1),y:yS(h1).toFixed(1),width:Math.max(1,xS(en[1])-xS(en[0])).toFixed(1),height:Math.max(1,yS(h0)-yS(h1)).toFixed(1),fill:'url(#'+id+')'});
    
    
  }));
  latGridTicks.forEach(lat=>{
    const gl=add(g,'line',lineAttrs(xS(lat),p.top,xS(lat),p.bottom,'#b0b0b0',3));
    
    
    const tk=add(fig,'line',lineAttrs(xS(lat),p.bottom,xS(lat),p.bottom+13,'#000',3));
    
    
  });
  heightTicks.forEach(h=>{
    const gl=add(g,'line',lineAttrs(cLeft,yS(h),cRight,yS(h),'#b0b0b0',3));
    
    
    const tk=add(fig,'line',lineAttrs(cLeft-12,yS(h),cLeft,yS(h),'#000',3));
    
    
    const t=add(fig,'text',{x:1162,y:yS(h)+10.5,'font-size':29,'text-anchor':'end'});
    t.textContent=String(h);
    
    
  });
  const dl=add(g,'polyline',{points:dottedLineLat.map((l,i)=>xS(l).toFixed(1)+','+yS(dottedLineHeight[i]).toFixed(1)).join(' '),fill:'none',stroke:'#000','stroke-width':4.2,'stroke-dasharray':'4.2 6.9'});
  
  
  const da=add(g,'polyline',{points:dashedLineLat.map((l,i)=>xS(l).toFixed(1)+','+yS(dashedLineHeight[i]).toFixed(1)).join(' '),fill:'none',stroke:'#000','stroke-width':4.2,'stroke-dasharray':'15.4 6.7'});
  
  
  const sp=add(fig,'rect',{x:cLeft,y:p.top,width:cRight-cLeft,height:p.bottom-p.top,fill:'none',stroke:'#000','stroke-width':3});
  
  
  const yl=add(fig,'text',{x:0,y:0,'font-size':31,'text-anchor':'middle',transform:'translate(1102,'+((p.top+p.bottom)/2-0)+') rotate(-90)'});
  yl.textContent='Height [km]';
  
  
  /* colour bar */
  const id='cb'+p.id;
  const lg=add(defs,'linearGradient',{id:id,gradientUnits:'userSpaceOnUse',x1:0,x2:0,y1:p.yMin,y2:p.yMax});
  turboColors.forEach((c,i)=>{add(lg,'stop',{offset:i/(turboColors.length-1),'stop-color':c});});
  const mid=(cbL+cbR)/2;
  const bar=add(fig,'rect',{x:cbL,y:p.yMax,width:cbR-cbL,height:p.yMin-p.yMax,fill:'url(#'+id+')'});
  
  
  const up=add(fig,'polygon',{points:cbL+','+p.yMax+' '+mid+','+p.tipTop+' '+cbR+','+p.yMax,fill:turboColors[turboColors.length-1]});
  
  
  const dn=add(fig,'polygon',{points:cbL+','+p.yMin+' '+mid+','+p.tipBottom+' '+cbR+','+p.yMin,fill:turboColors[0]});
  
  
  const ol=add(fig,'polygon',{points:cbL+','+p.yMax+' '+mid+','+p.tipTop+' '+cbR+','+p.yMax+' '+cbR+','+p.yMin+' '+mid+','+p.tipBottom+' '+cbL+','+p.yMin,fill:'none',stroke:'#000','stroke-width':3});
  
  
  p.cticks.forEach((v,i)=>{
    const y=p.yMin+(v-p.vmin)/(p.vmax-p.vmin)*(p.yMax-p.yMin);
    const tk=add(fig,'line',lineAttrs(cbR,y,2804,y,'#000',3));
    
    
    const t=add(fig,'text',{x:2817,y:y+10.5,'font-size':29});
    t.textContent=p.clabels[i];
    
    
  });
});

/* ---------- panel g ---------- */
(function(){
  const l=1186.7,r=2754,t=2042.3,b=2097.3;
  const xS=lat=>1360.3+(lat+33)*379;
  const yS=c=>2092.3-9*c;
  const cp=add(defs,'clipPath',{id:'clip-g'});
  add(cp,'rect',{x:l,y:t,width:r-l,height:b-t});
  const g=add(fig,'g',{'clip-path':'url(#clip-g)'});
  
  
  classTicks.forEach((lat,i)=>{
    const gl=add(g,'line',lineAttrs(xS(lat),t,xS(lat),b,'#b0b0b0',3));
    
    
    const tk=add(fig,'line',lineAttrs(xS(lat),b,xS(lat),b+13,'#000',3));
    
    
    const x=add(fig,'text',{x:xS(lat),y:2146,'font-size':30,'text-anchor':'middle'});
    x.textContent=classTickLabels[i];
    
    
  });
  classSegments.forEach(s=>{
    let a=xS(s[1])+5.3,z=xS(s[2])-5.3;
    if(z<a){a=z=(a+z)/2;}
    const m=add(g,'line',{x1:a,y1:yS(s[0]),x2:z+0.01,y2:yS(s[0]),stroke:classColors[s[0]],'stroke-width':10.7,'stroke-linecap':'round'});
    
    
  });
  const sp=add(fig,'rect',{x:l,y:t,width:r-l,height:b-t,fill:'none',stroke:'#000','stroke-width':3});
  
  
  const cl=2782.3,cr=2792.7,ct=1962.3,cb=2180.7,sh=(cb-ct)/6;
  classNames.forEach((n,c)=>{
    const y0=cb-(c+1)*sh;
    const s=add(fig,'rect',{x:cl,y:y0,width:cr-cl,height:sh+.5,fill:classColors[c]});
    
    
    const tk=add(fig,'line',lineAttrs(cr,y0+sh/2,2802.7,y0+sh/2,'#000',3));
    
    
    const x=add(fig,'text',{x:2813,y:y0+sh/2+9.7,'font-size':26.6});
    x.textContent=n;
    
    
  });
  const o=add(fig,'rect',{x:cl,y:ct,width:cr-cl,height:cb-ct,fill:'none',stroke:'#000','stroke-width':3});
  
  
})();
</script>
</body>
</html>
